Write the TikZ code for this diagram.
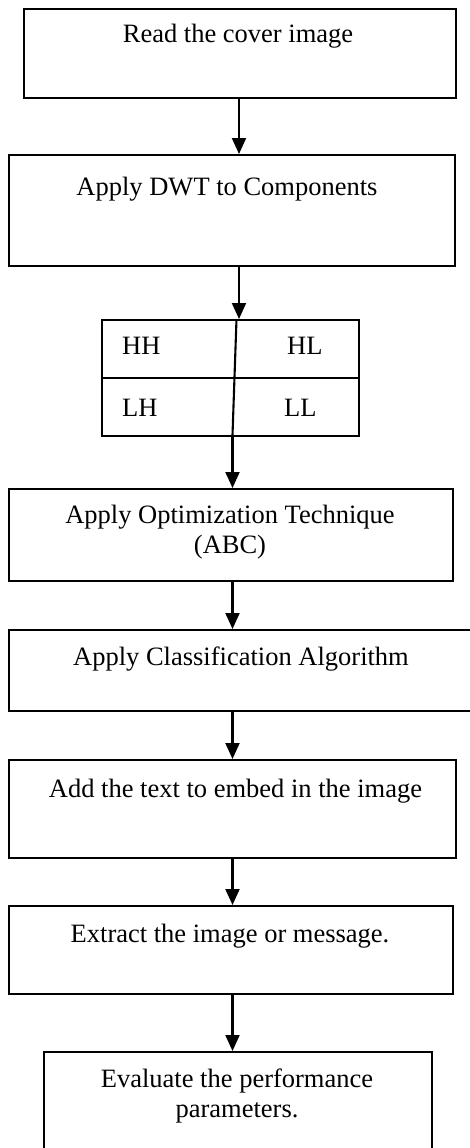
\documentclass[tikz,border=0pt]{standalone}
\usepackage{fontspec}
\setmainfont{Liberation Serif}
\usetikzlibrary{arrows.meta}
\begin{document}
\begin{tikzpicture}[x=1pt,y=-1pt,
  box/.style={draw, line width=2.1pt, inner sep=0pt, anchor=north west},
  lbl/.style={anchor=base, inner sep=0pt, font=\fontsize{26.5}{30}\selectfont},
  arr/.style={line width=2.1pt, -{Triangle[length=16pt,width=14pt]}},
  rule/.style={line width=2.1pt}]
\fill[white] (0,0) rectangle (470,1148);
\clip (0,0) rectangle (470,1148);
\useasboundingbox (0,0) rectangle (470,1148);

% process boxes
\node[box, minimum width=432pt, minimum height=89pt]  (b1) at (23,8) {};
\node[box, minimum width=446pt, minimum height=111pt] (b2) at (8,154) {};
\node[box, minimum width=257pt, minimum height=116pt] (tab) at (101,319) {};
\node[box, minimum width=444pt, minimum height=92pt]  (b3) at (8,488) {};
\node[box, minimum width=480pt, minimum height=81pt]  (b4) at (8,629) {};
\node[box, minimum width=447pt, minimum height=98pt]  (b5) at (8,759) {};
\node[box, minimum width=444pt, minimum height=88pt]  (b6) at (8,905) {};
\node[box, minimum width=388pt, minimum height=120pt] (b7) at (43,1051) {};

% sub-band grid
\draw[rule] (tab.west) -- (tab.east);
\coordinate (dtop) at (236.5,319);
\coordinate (dbot) at (232.5,435);
\draw[rule] (dtop) -- (dbot);

% labels
\node[lbl] (t1) at (238,43) {Read the cover image};
\node[lbl] (t2) at (227,195) {Apply DWT to Components};
\node[lbl, anchor=base west] (hh) at (122,354) {HH};
\node[lbl, anchor=base west] (hl) at (287,354) {HL};
\node[lbl, anchor=base west] (lh) at (122,416) {LH};
\node[lbl, anchor=base west] (ll) at (284,416) {LL};
\node[lbl] (t3a) at (230,523) {Apply Optimization Technique};
\node[lbl] (t3b) at (230,553) {(ABC)};
\node[lbl] (t4) at (241,665) {Apply Classification Algorithm};
\node[lbl] (t5) at (235.5,797) {Add the text to embed in the image};
\node[lbl] (t6) at (230,942) {Extract the image or message.};
\node[lbl] (t7a) at (237,1087) {Evaluate the performance};
\node[lbl] (t7b) at (237,1117) {parameters.};

% connectors
\coordinate (c1) at (239,0);
\draw[arr] (c1 |- b1.south) -- (c1 |- b2.north);
\draw[arr] (c1 |- b2.south) -- (c1 |- tab.north);
\draw[arr] (dbot) -- (dbot |- b3.north);
\draw[arr] (dbot |- b3.south) -- (dbot |- b4.north);
\draw[arr] (dbot |- b4.south) -- (dbot |- b5.north);
\draw[arr] (dbot |- b5.south) -- (dbot |- b6.north);
\draw[arr] (dbot |- b6.south) -- (dbot |- b7.north);
\end{tikzpicture}
\end{document}
